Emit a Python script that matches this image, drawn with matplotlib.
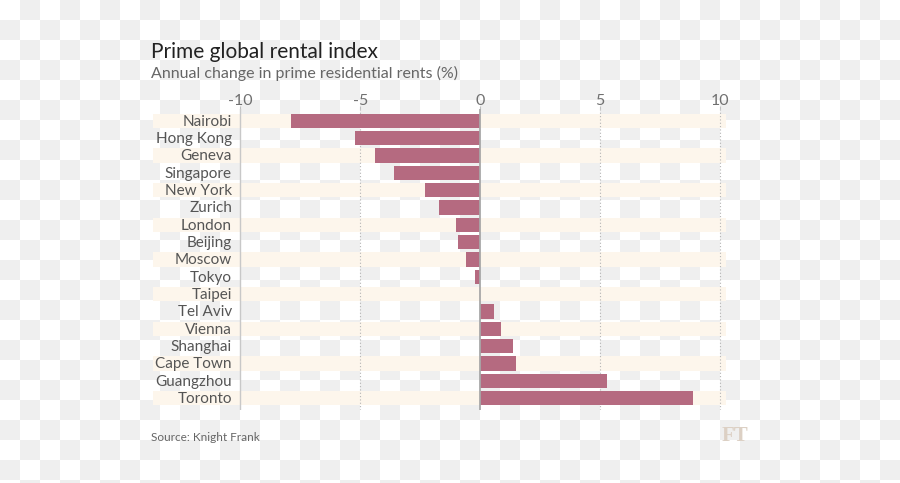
import numpy as np
import matplotlib
matplotlib.use('Agg')
import matplotlib.pyplot as plt

# data
cities = ['Nairobi', 'Hong Kong', 'Geneva', 'Singapore', 'New York', 'Zurich',
          'London', 'Beijing', 'Moscow', 'Tokyo', 'Taipei', 'Tel Aviv', 'Vienna',
          'Shanghai', 'Cape Town', 'Guangzhou', 'Toronto']
change = [-7.9, -5.2, -4.4, -3.6, -2.3, -1.7, -1.0, -0.9, -0.6, -0.2, 0.0,
          0.6, 0.9, 1.4, 1.5, 5.3, 8.9]
xticks = [-10, -5, 0, 5, 10]
xtick_labels = ['-10', '-5', '0', '5', '10']

plt.rcParams['font.family'] = ['Lato', 'DejaVu Sans']

W, H = 900, 483
fig = plt.figure(figsize=(W / 100, H / 100), dpi=100)

# checkerboard backdrop (transparent png look)
yy, xx = np.mgrid[0:H, 0:W]
grey = ((xx // 20 + yy // 20) % 2 == 1)
img = np.ones((H, W, 3))
img[grey] = 0xef / 255
fig.figimage(img, 0, 0, origin='upper', zorder=-10)

# axes placed in pixel terms
left_px, right_px, top_px, bot_px = 153, 726, 109, 410
ax = fig.add_axes([left_px / W, 1 - bot_px / H, (right_px - left_px) / W, (bot_px - top_px) / H])
ax.set_zorder(5)
ax.patch.set_alpha(0)
for s in ax.spines.values():
    s.set_visible(False)

px_per_unit = 24.0
xmin = -10 - (240.5 - left_px) / px_per_unit
xmax = 10 + (right_px - 719.5) / px_per_unit
ax.set_xlim(xmin, xmax)
rows = np.arange(len(cities))
ax.set_ylim(len(cities) - 1 + 0.69, -0.69)

h = 0.83
for i in rows[::2]:
    ax.axhspan(i - h / 2, i + h / 2, color='#fdf6ec', zorder=1, lw=0)

for v in [-5, 5, 10]:
    ax.axvline(v, color='#b4b4b4', lw=0.8, ls=(0, (1, 2)), zorder=2)
ax.axvline(-10, color='#c8c8c8', lw=1, zorder=2)

ax.barh(rows, change, height=h, color='#b56a80', zorder=3)
ax.axvline(0, color='#a8a8a8', lw=1.3, zorder=4)

ax.xaxis.tick_top()
ax.set_xticks(xticks)
ax.set_xticklabels(xtick_labels)
ax.tick_params(axis='x', length=2, color='#c0c0c0', labelcolor='#707070',
               labelsize=11.5, pad=-1)
ax.set_yticks([])

for i, name in enumerate(cities):
    ax.text(-10.35, i + 0.05, name, ha='right', va='center', fontsize=11,
            color='#555555')

fig.text(151 / W, 1 - 58 / H, 'Prime global rental index', fontsize=15,
         color='#222222', va='baseline')
fig.text(151 / W, 1 - 78 / H, 'Annual change in prime residential rents (%)',
         fontsize=11.5, color='#666666', va='baseline')
fig.text(151 / W, 1 - 441 / H, 'Source: Knight Frank', fontsize=8.5,
         color='#666666', va='baseline')
fig.text(722 / W, 1 - 441 / H, 'FT', family='Liberation Serif', weight='bold',
         fontsize=15, color='#dcd0c4', va='baseline')

fig.savefig('out.png', dpi=100)
